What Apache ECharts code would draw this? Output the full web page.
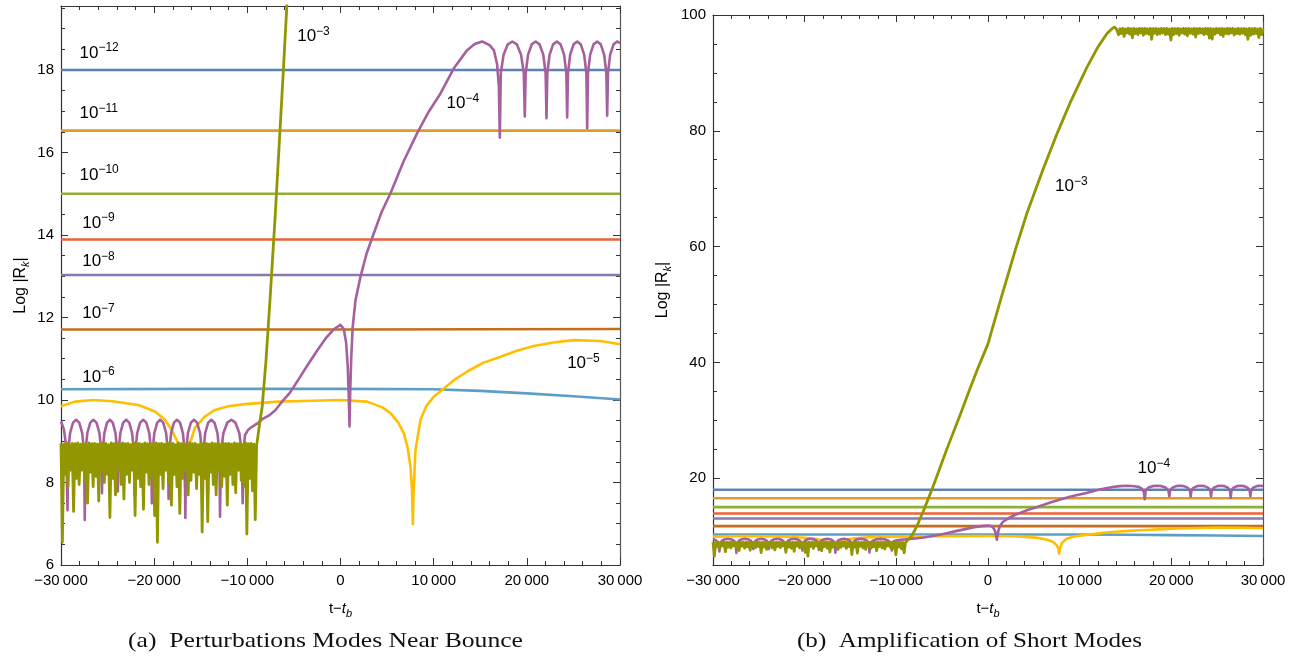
<!DOCTYPE html>
<html><head><meta charset="utf-8">
<script src="https://cdn.jsdelivr.net/npm/echarts@6/dist/echarts.min.js"></script>
<style>html,body{margin:0;padding:0;background:#fff}#c{width:1299px;height:656px}</style>
</head><body><div id="c"></div>
<script>
// ---------------- DATA ----------------
const flatT = [-30000, 0, 30000];
const m12 = [18.0, 18.0, 18.0];
const m11 = [16.53, 16.53, 16.53];
const m10 = [15.0, 15.0, 15.0];
const m9  = [13.89, 13.89, 13.89];
const m8  = [13.03, 13.03, 13.03];
const m7  = [11.71, 11.71, 11.72];
const m6T = [-30000, -15000, 0, 10000, 15000, 20000, 25000, 30000];
const m6  = [10.26, 10.27, 10.27, 10.26, 10.22, 10.16, 10.09, 10.01];

const m5T = [-30000, -28500, -26500, -24500, -21700, -19910, -18838, -18120, -17585, -17100, -16800, -16690, -16550, -16300, -15620, -14550, -13470, -12040, -10250, -6680, -3000, 0, 2862, 4500, 5367, 6200, 6800, 7200, 7513, 7680, 7763, 7850, 8050, 8586, 9200, 10017, 11090, 12300, 13596, 15300, 17174, 19000, 20751, 23000, 25044, 27906, 30000];
const m5  = [9.85, 9.96, 10.0, 9.97, 9.88, 9.72, 9.52, 9.27, 9.03, 8.7, 8.3, 7.9, 8.4, 8.85, 9.33, 9.6, 9.76, 9.85, 9.9, 9.96, 9.98, 10.0, 9.96, 9.82, 9.68, 9.45, 9.19, 8.85, 8.38, 7.8, 6.99, 7.8, 8.79, 9.52, 9.85, 10.08, 10.28, 10.5, 10.69, 10.9, 11.05, 11.2, 11.31, 11.4, 11.45, 11.43, 11.35];

const m4T = [-30000, -29700, -29450, -29300,
  -29226, -29022, -28708, -28375, -28042, -27727, -27524, -27450,
  -27376, -27172, -26858, -26525, -26192, -25877, -25674, -25600,
  -25532, -25345, -25056, -24750, -24444, -24155, -23968, -23900,
  -23828, -23630, -23324, -23000, -22676, -22370, -22172, -22100,
  -22026, -21822, -21508, -21175, -20842, -20527, -20324, -20250,
  -20178, -19980, -19674, -19350, -19026, -18720, -18522, -18450,
  -18378, -18180, -17874, -17550, -17226, -16920, -16722, -16650,
  -16576, -16372, -16058, -15725, -15392, -15077, -14874, -14800,
  -14725, -14520, -14202, -13865, -13528, -13210, -13005, -12930,
  -12833, -12565, -12152, -11715, -11278, -10865, -10597, -10500,
  -10420, -10250, -9900, -9500, -9000, -8300, -7700, -7000, -6200, -5420, -4500, -3630, -2500, -1500, -700, 0, 350, 600, 780, 900, 966, 1040, 1150, 1300, 1610, 2147, 2800, 3578, 4400, 5367, 6800, 8229, 9500, 10733, 12164, 13596, 14400, 15206, 16000, 16458, 16800, 17000, 17100,
  17207, 17502, 17958, 18441, 18924, 19380, 19675, 19782,
  19875, 20131, 20527, 20946, 21366, 21762, 22018, 22111,
  22200, 22444, 22821, 23221, 23620, 23997, 24241, 24330,
  24416, 24652, 25017, 25403, 25789, 26154, 26390, 26476,
  26562, 26798, 27163, 27550, 27936, 28301, 28537, 28623,
  28709, 28945, 29310, 29696, 30000];
const m4 = [9.48, 9.3, 8.9, 7.33,
  8.75, 9.2, 9.45, 9.52, 9.45, 9.2, 8.75, 7.09,
  8.75, 9.2, 9.45, 9.52, 9.45, 9.2, 8.75, 7.74,
  8.75, 9.2, 9.45, 9.52, 9.45, 9.2, 8.75, 7.78,
  8.75, 9.2, 9.45, 9.52, 9.45, 9.2, 8.75, 7.7,
  8.75, 9.2, 9.45, 9.52, 9.45, 9.2, 8.75, 7.5,
  8.75, 9.2, 9.45, 9.52, 9.45, 9.2, 8.75, 7.6,
  8.75, 9.2, 9.45, 9.52, 9.45, 9.2, 8.75, 7.14,
  8.75, 9.2, 9.45, 9.52, 9.45, 9.2, 8.75, 8.3,
  8.75, 9.2, 9.45, 9.52, 9.45, 9.2, 8.75, 7.17,
  8.75, 9.2, 9.45, 9.52, 9.45, 9.2, 8.75, 7.5,
  8.75, 9.15, 9.28, 9.35, 9.42, 9.55, 9.62, 9.75, 9.98, 10.18, 10.5, 10.81, 11.2, 11.52, 11.72, 11.82, 11.72, 11.4, 10.8, 10.0, 9.36, 10.2, 11.0, 11.75, 12.42, 12.99, 13.55, 14.04, 14.55, 15.01, 15.8, 16.47, 17.0, 17.43, 18.04, 18.48, 18.63, 18.69, 18.6, 18.48, 18.15, 17.6, 16.36,
  17.92, 18.37, 18.62, 18.69, 18.62, 18.37, 17.92, 16.87,
  17.92, 18.37, 18.62, 18.69, 18.62, 18.37, 17.92, 16.83,
  17.92, 18.37, 18.62, 18.69, 18.62, 18.37, 17.92, 16.85,
  17.92, 18.37, 18.62, 18.69, 18.62, 18.37, 17.92, 16.59,
  17.92, 18.37, 18.62, 18.69, 18.62, 18.37, 17.92, 16.89,
  17.92, 18.37, 18.62, 18.69, 18.65];

// 10^-3 mode: oscillating band (sampled every 150 from -30000), rise, then saturated band (every 150 from 14100)
const m3BandStart = -30000, m3BandStep = 150;
const m3Band = [8.95, 6.55, 8.93, 8.2, 8.96, 7.9, 8.92, 8.3, 8.95, 7.3,
  8.94, 8.1, 8.96, 7.95, 8.93, 8.3, 8.95, 8.05, 8.92, 7.5,
  8.96, 8.25, 8.94, 7.9, 8.95, 8.15, 8.93, 7.55, 8.96, 8.3,
  8.94, 8.0, 8.95, 8.2, 8.92, 7.15, 8.96, 8.1, 8.94, 7.7,
  8.95, 8.3, 8.93, 7.95, 8.96, 7.6, 8.94, 8.2, 8.95, 8.0,
  8.92, 8.3, 8.96, 7.2, 8.94, 8.1, 8.95, 7.9, 8.93, 7.35,
  8.96, 8.25, 8.94, 7.95, 8.95, 8.15, 8.92, 7.2, 8.96, 6.55,
  8.94, 8.2, 8.95, 7.85, 8.93, 8.3, 8.96, 8.0, 8.94, 7.45,
  8.95, 8.2, 8.92, 7.9, 8.96, 7.25, 8.94, 8.1, 8.95, 8.3,
  8.93, 7.7, 8.96, 8.05, 8.94, 8.25, 8.95, 7.85, 8.92, 8.2,
  8.96, 6.8, 8.94, 8.1, 8.95, 7.05, 8.93, 8.25, 8.96, 7.95,
  8.94, 7.7, 8.95, 8.3, 8.92, 7.9, 8.96, 8.15, 8.94, 7.45,
  8.95, 8.2, 8.93, 7.95, 8.96, 7.75, 8.94, 8.3, 8.95, 8.05,
  8.92, 7.9, 8.96, 6.75, 8.94, 8.1, 8.95, 7.8, 8.93, 7.1];
const m3RiseT = [-9000, -8700, -8400, -8000, -7567, -7000, -6107, -5678, -4473, -3022, -1931, -1000, 0, 500, 1500, 3000, 4255, 6000, 7527, 9000, 10800, 12000, 12982, 13500, 13778, 14000];
const m3Rise  = [8.9, 9.4, 9.85, 10.95, 12.42, 14.5, 18.1, 19.9, 25.1, 31.0, 35.6, 39.4, 43.2, 46.0, 51.5, 59.5, 65.8, 73.3, 79.5, 85.0, 91.0, 94.5, 96.8, 97.6, 97.9, 97.6];
const m3TopStart = 14100, m3TopStep = 150;
const m3Top = [97.7, 96.6, 97.65, 96.8, 97.7, 96.3, 97.6, 96.9, 97.72, 96.7,
  97.65, 96.05, 97.7, 96.8, 97.6, 96.6, 97.7, 96.9, 97.68, 96.5,
  97.7, 96.8, 97.62, 96.7, 97.7, 95.8, 97.66, 96.85, 97.7, 96.6,
  97.62, 96.75, 97.7, 96.9, 97.66, 96.6, 97.7, 96.7, 97.6, 95.65,
  97.7, 96.6, 97.65, 96.8, 97.7, 96.5, 97.62, 96.9, 97.7, 96.7,
  97.66, 96.4, 97.7, 96.85, 97.6, 96.7, 97.7, 96.2, 97.65, 96.8,
  97.7, 96.9, 97.62, 96.6, 97.7, 96.75, 97.68, 96.0, 97.7, 95.85,
  97.6, 96.7, 97.7, 96.9, 97.65, 96.6, 97.7, 96.3, 97.62, 96.8,
  97.7, 96.7, 97.66, 96.9, 97.7, 96.55, 97.6, 96.8, 97.7, 96.7,
  97.65, 96.85, 97.7, 96.6, 97.62, 95.8, 97.7, 96.5, 97.66, 96.7,
  97.7, 96.8, 97.6, 96.1, 97.7, 96.6, 97.65];

const modeNames = ['10⁻¹²','10⁻¹¹','10⁻¹⁰','10⁻⁹','10⁻⁸','10⁻⁷','10⁻⁶','10⁻⁵','10⁻⁴','10⁻³'];
const yTicksA = [6, 8, 10, 12, 14, 16, 18];
const yMinorA = [6.5, 7, 7.5, 8.5, 9, 9.5, 10.5, 11, 11.5, 12.5, 13, 13.5, 14.5, 15, 15.5, 16.5, 17, 17.5, 18.5, 19, 19.5];
const yTicksB = [20, 40, 60, 80, 100];
const yMinorB = [5, 10, 15, 25, 30, 35, 45, 50, 55, 65, 70, 75, 85, 90, 95];

// annotation text (exponent) and anchor in data coordinates
const labelsA = [
  {e: '−12', t: -28068, v: 18.41}, {e: '−11', t: -28068, v: 16.95}, {e: '−10', t: -28068, v: 15.45},
  {e: '−9', t: -27778, v: 14.29}, {e: '−8', t: -27778, v: 13.36}, {e: '−7', t: -27778, v: 12.10},
  {e: '−6', t: -27778, v: 10.56}, {e: '−3', t: -4703, v: 18.81}, {e: '−4', t: 11322, v: 17.19},
  {e: '−5', t: 24275, v: 10.89}];
const labelsB = [{e: '−3', t: 7265, v: 70.35}, {e: '−4', t: 16254, v: 21.7}];
const captions = ['(a)  Perturbations Modes Near Bounce', '(b)  Amplification of Short Modes'];

// ---------------- BUILD ----------------
const colors = ['#5E81B5','#E19C24','#8FB032','#EB6235','#8778B3','#C56E1A','#5D9EC7','#FFBF00','#A5609D','#929600'];
function pairs(t, v) { return t.map((x, i) => [x, v[i]]); }
function sampled(t0, dt, v) { return v.map((y, i) => [t0 + i * dt, y]); }
const olive = sampled(m3BandStart, m3BandStep, m3Band).concat(pairs(m3RiseT, m3Rise), sampled(m3TopStart, m3TopStep, m3Top));
const modeData = [
  pairs(flatT, m12), pairs(flatT, m11), pairs(flatT, m10), pairs(flatT, m9), pairs(flatT, m8), pairs(flatT, m7),
  pairs(m6T, m6), pairs(m5T, m5), pairs(m4T, m4), olive];

const SANS = '"Liberation Sans", Arial, Helvetica, sans-serif';
const AXC = '#333';
function fmtX(v) {
  if (v === 0) return '0';
  const s = String(Math.abs(v));
  return (v < 0 ? '\u2212' : '') + s.slice(0, -3) + '\u2009' + s.slice(-3);
}
function xAx(g, pos, showLabel, withName) {
  return {
    type: 'value', gridIndex: g, position: pos, min: -30000, max: 30000, interval: 10000,
    axisLine: {show: true, onZero: false, lineStyle: {color: AXC, width: 1.2}},
    axisTick: {show: true, inside: true, length: 7, lineStyle: {color: AXC, width: 1}},
    minorTick: {show: true, splitNumber: 5, length: 4, lineStyle: {color: AXC, width: 1}},
    splitLine: {show: false}, minorSplitLine: {show: false},
    axisLabel: {show: showLabel, margin: 8, color: '#000', fontFamily: SANS, fontSize: 15, formatter: fmtX,
      showMinLabel: true, showMaxLabel: true},
    name: withName ? '{n|t\u2212}{i|t}{b|b}' : '', nameLocation: 'middle', nameGap: 34,
    nameTextStyle: {rich: {
      n: {fontFamily: SANS, fontSize: 15, color: '#000', lineHeight: 20},
      i: {fontFamily: SANS, fontSize: 15, fontStyle: 'italic', color: '#000', lineHeight: 20},
      b: {fontFamily: SANS, fontSize: 11, fontStyle: 'italic', color: '#000', lineHeight: 11, verticalAlign: 'bottom'}}}
  };
}
function yAx(g, pos, min, max, ticks, len, showLabel, showLine, name, gap) {
  return {
    type: 'value', gridIndex: g, position: pos, min: min, max: max,
    axisLine: {show: showLine, onZero: false, lineStyle: {color: pos === 'right' ? '#555' : AXC, width: 1.2}},
    axisTick: {show: true, inside: true, length: len, customValues: ticks, lineStyle: {color: AXC, width: 1}},
    splitLine: {show: false},
    axisLabel: {show: showLabel, customValues: ticks, margin: 7, color: '#000', fontFamily: SANS, fontSize: 15},
    name: name || '', nameLocation: 'middle', nameRotate: 90, nameGap: gap || 30,
    nameTextStyle: {rich: {
      n: {fontFamily: SANS, fontSize: 16, color: '#000', lineHeight: 20},
      k: {fontFamily: SANS, fontSize: 11, fontStyle: 'italic', color: '#000', lineHeight: 11, verticalAlign: 'bottom'}}}
  };
}
const yName = '{n|Log |R}{k|k}{n||}';
const xAxis = [xAx(0, 'bottom', true, true), xAx(0, 'top', false, false), xAx(1, 'bottom', true, true), xAx(1, 'top', false, false)];
const yAMin = 6, yAMax = 19.55, yBMin = 5, yBMax = 100;
const yAxis = [
  yAx(0, 'left', yAMin, yAMax, yTicksA, 7, true, true, yName, 30),
  yAx(0, 'left', yAMin, yAMax, yMinorA, 4, false, false),
  yAx(0, 'right', yAMin, yAMax, yTicksA, 7, false, true),
  yAx(0, 'right', yAMin, yAMax, yMinorA, 4, false, false),
  yAx(1, 'left', yBMin, yBMax, yTicksB, 7, true, true, yName, 40),
  yAx(1, 'left', yBMin, yBMax, yMinorB, 4, false, false),
  yAx(1, 'right', yBMin, yBMax, yTicksB, 7, false, true),
  yAx(1, 'right', yBMin, yBMax, yMinorB, 4, false, false)
];

const series = [];
[[0, 0], [2, 4]].forEach(([xi, yi]) => {
  modeData.forEach((d, k) => {
    series.push({
      type: 'line', name: modeNames[k], xAxisIndex: xi, yAxisIndex: yi, data: d,
      showSymbol: false, symbol: 'none', smooth: false, silent: true, z: 2 + k * 0.1,
      lineStyle: {color: colors[k], width: k === 9 ? 2.8 : 2.6, join: 'round'}
    });
  });
  const labs = xi === 0 ? labelsA : labelsB;
  series.push({
    type: 'scatter', xAxisIndex: xi, yAxisIndex: yi, symbolSize: 1, silent: true, z: 10,
    itemStyle: {color: 'rgba(255,255,255,0)'},
    data: labs.map(l => ({value: [l.t, l.v], name: l.e})),
    label: {show: true, position: 'right', distance: 0, align: 'left', verticalAlign: 'middle',
      color: '#000', opacity: 1, textBorderWidth: 0,
      formatter: p => '{b|10}{s|' + p.name + '}',
      rich: {
        b: {fontFamily: SANS, fontSize: 17, color: '#000', lineHeight: 22},
        s: {fontFamily: SANS, fontSize: 12, color: '#000', lineHeight: 11, verticalAlign: 'top'}
      }}
  });
});

// caption width matching (Computer-Modern-like width)
const CAP_FONT = '21px "Liberation Serif", "DejaVu Serif", serif';
const mctx = document.createElement('canvas').getContext('2d');
mctx.font = CAP_FONT;
const capTargets = [{x: 128, w: 395}, {x: 797, w: 345}];
const graphics = captions.map((c, i) => {
  const w = mctx.measureText(c).width;
  return {type: 'text', x: capTargets[i].x, y: 641, scaleX: capTargets[i].w / w, scaleY: 1,
    style: {text: c, x: 0, y: 0, font: CAP_FONT, fill: '#111', textAlign: 'left', textVerticalAlign: 'middle'}};
});

const chart = echarts.init(document.getElementById('c'), null, {renderer: 'canvas'});
chart.setOption({
  animation: false,
  backgroundColor: '#fff',
  grid: [
    {left: 61, top: 6, width: 559, height: 559, containLabel: false},
    {left: 713, top: 15, width: 550, height: 550, containLabel: false}
  ],
  xAxis: xAxis,
  yAxis: yAxis,
  series: series,
  graphic: graphics
});
</script></body></html>
